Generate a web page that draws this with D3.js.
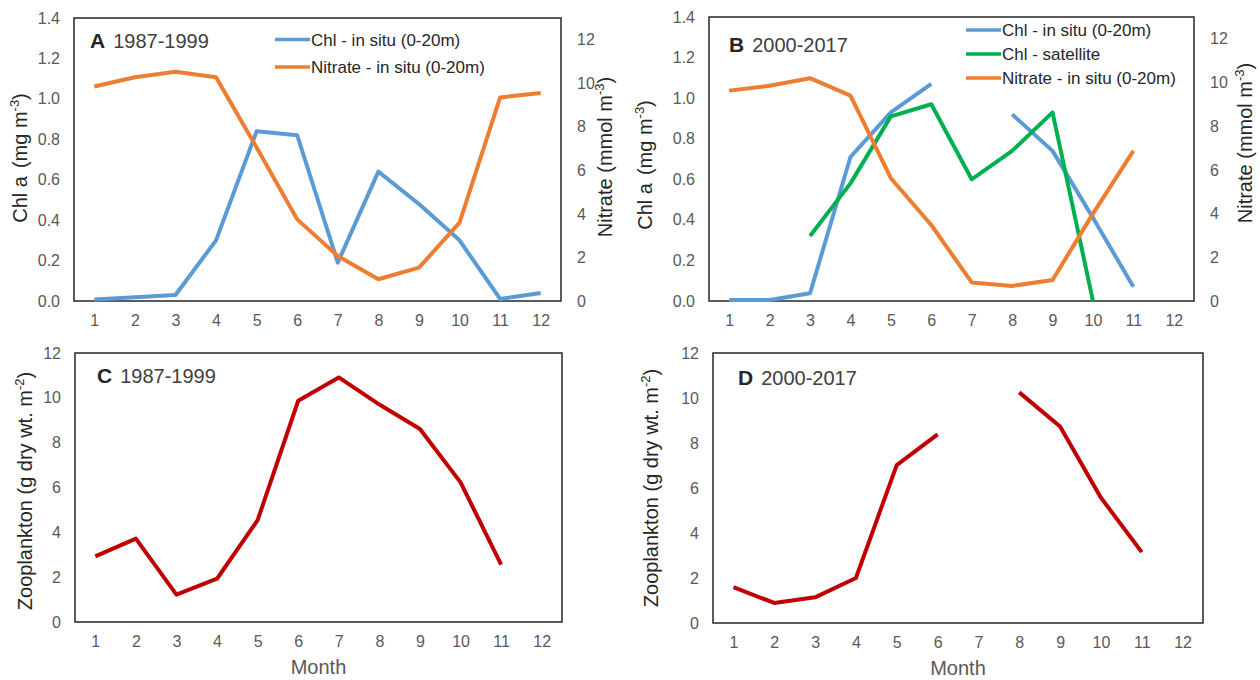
<!DOCTYPE html>
<html>
<head>
<meta charset="utf-8">
<script src="https://cdn.jsdelivr.net/npm/d3@7"></script>
<style>
  body { margin: 0; background: #fff; }
  svg { font-family: "Liberation Sans", Arial, sans-serif; }
  .tick text { fill: #595959; }
</style>
</head>
<body>
<svg id="chart" width="1260" height="680"></svg>
<script>
// months on the category axis
const months = [1, 2, 3, 4, 5, 6, 7, 8, 9, 10, 11, 12];

// Panel A, 1987-1999
const chlA = [0.008, 0.018, 0.03, 0.30, 0.84, 0.82, 0.19, 0.64, 0.48, 0.30, 0.01, 0.04];
const nitrateA = [9.85, 10.28, 10.53, 10.28, 7.05, 3.75, 2.07, 1.0, 1.53, 3.6, 9.35, 9.55];

// Panel B, 2000-2017
const chlB = [0.005, 0.005, 0.038, 0.71, 0.93, 1.07, null, 0.92, 0.74, 0.41, 0.07, null];
const satB = [null, null, 0.32, 0.58, 0.91, 0.97, 0.60, 0.74, 0.93, 0.0, null, null];
const nitrateB = [9.63, 9.85, 10.2, 9.4, 5.62, 3.48, 0.85, 0.69, 0.96, 4.0, 6.87, null];

// Panels C and D, zooplankton
const zooC = [2.93, 3.72, 1.22, 1.93, 4.54, 9.87, 10.91, 9.7, 8.61, 6.23, 2.56, null];
const zooD = [1.59, 0.89, 1.14, 2.0, 7.02, 8.38, null, 10.25, 8.73, 5.57, 3.15, null];

// tick values
const chlTicks = [0, 0.2, 0.4, 0.6, 0.8, 1.0, 1.2, 1.4];
const nitrateTicks = [0, 2, 4, 6, 8, 10, 12];
const zooTicks = [0, 2, 4, 6, 8, 10, 12];

const BLUE = "#5B9BD5", ORANGE = "#ED7D31", GREEN = "#00B050", RED = "#C00000";

const svg = d3.select("#chart");

function drawPanel(p) {
  const g = svg.append("g");
  const x = d3.scalePoint().domain(months).range([p.x0, p.x1]).padding(0.5);
  const yL = d3.scaleLinear().domain(p.leftDomain).range([p.y1, p.y0]);
  const yR = p.rightDomain ? d3.scaleLinear().domain(p.rightDomain).range([p.y1, p.y0]) : null;

  // box
  g.append("rect")
    .attr("x", p.x0).attr("y", p.y0)
    .attr("width", p.x1 - p.x0).attr("height", p.y1 - p.y0)
    .attr("fill", "none").attr("stroke", "#262626").attr("stroke-width", 1.5);

  // left axis
  const la = g.append("g").attr("transform", `translate(${p.x0 - 11},0)`)
    .call(d3.axisLeft(yL).tickValues(p.leftTicks).tickSize(0).tickFormat(p.leftFormat));
  la.select(".domain").remove();
  la.selectAll("text").attr("font-size", 16).attr("font-family", "Liberation Sans, Arial");

  if (yR) {
    const ra = g.append("g").attr("transform", `translate(${p.x1 + 13},0)`)
      .call(d3.axisRight(yR).tickValues(nitrateTicks).tickSize(0));
    ra.select(".domain").remove();
    ra.selectAll("text").attr("font-size", 16).attr("font-family", "Liberation Sans, Arial");
  }

  // bottom axis
  const ba = g.append("g").attr("transform", `translate(0,${p.y1 + 11})`)
    .call(d3.axisBottom(x).tickSize(0));
  ba.select(".domain").remove();
  ba.selectAll("text").attr("font-size", 16).attr("font-family", "Liberation Sans, Arial");

  // series
  p.series.forEach(s => {
    const sc = s.right ? yR : yL;
    const line = d3.line()
      .defined(d => d.v != null)
      .x(d => x(d.m))
      .y(d => sc(d.v));
    g.append("path")
      .datum(months.map((m, i) => ({ m: m, v: s.values[i] })))
      .attr("d", line)
      .attr("fill", "none")
      .attr("stroke", s.color)
      .attr("stroke-width", 4)
      .attr("stroke-linejoin", "round");
  });

  // panel tag
  const tag = g.append("text").attr("x", p.tagX).attr("y", p.tagY)
    .attr("font-size", 20).attr("fill", "#262626");
  tag.append("tspan").attr("font-weight", "bold").attr("font-size", 21).text(p.tag);
  tag.append("tspan").attr("dx", 8).attr("fill", "#404040").text(p.period);

  // legend
  if (p.legend) {
    p.legend.forEach((l, i) => {
      const ly = p.legY + i * p.legStep;
      g.append("line").attr("x1", p.legX).attr("x2", p.legX + 35)
        .attr("y1", ly).attr("y2", ly)
        .attr("stroke", l.color).attr("stroke-width", 3.5);
      g.append("text").attr("x", p.legX + 36).attr("y", ly + 6)
        .attr("font-size", 17).attr("fill", "#262626").text(l.label);
    });
  }

  // left axis title
  const lt = g.append("text")
    .attr("transform", `translate(${p.leftTitleX},${p.leftTitleY}) rotate(-90)`)
    .attr("text-anchor", "middle").attr("font-size", 20).attr("fill", "#262626");
  p.leftTitle(lt);

  if (yR) {
    const rt = g.append("text")
      .attr("transform", `translate(${p.rightTitleX},${p.rightTitleY}) rotate(-90)`)
      .attr("text-anchor", "middle").attr("font-size", 20).attr("fill", "#262626");
    rt.append("tspan").text("Nitrate (mmol m");
    rt.append("tspan").attr("dy", -8).attr("font-size", 13).text("-3");
    rt.append("tspan").attr("dy", 8).text(")");
  }

  if (p.monthLabel) {
    g.append("text").attr("x", (p.x0 + p.x1) / 2).attr("y", p.y1 + 52)
      .attr("text-anchor", "middle").attr("font-size", 20).attr("fill", "#595959")
      .text("Month");
  }
}

function chlTitle(t) {
  t.append("tspan").text("Chl a");
  t.append("tspan").attr("dx", 8).text("(mg m");
  t.append("tspan").attr("dy", -8).attr("font-size", 13).text("-3");
  t.append("tspan").attr("dy", 8).text(")");
}
function zooTitle(t) {
  t.append("tspan").text("Zooplankton (g dry wt. m");
  t.append("tspan").attr("dy", -8).attr("font-size", 13).text("-2");
  t.append("tspan").attr("dy", 8).text(")");
}

drawPanel({
  x0: 74, x1: 561, y0: 18, y1: 301,
  leftDomain: [0, 1.4], leftTicks: chlTicks, leftFormat: d3.format(".1f"),
  rightDomain: [0, 13],
  series: [
    { values: chlA, color: BLUE },
    { values: nitrateA, color: ORANGE, right: true }
  ],
  tag: "A", period: "1987-1999", tagX: 90, tagY: 48,
  legend: [
    { label: "Chl - in situ (0-20m)", color: BLUE },
    { label: "Nitrate - in situ (0-20m)", color: ORANGE }
  ],
  legX: 275, legY: 39.5, legStep: 27.5,
  leftTitleX: 27, leftTitleY: 158, leftTitle: chlTitle,
  rightTitleX: 612, rightTitleY: 157
});

drawPanel({
  x0: 709, x1: 1194, y0: 17, y1: 301,
  leftDomain: [0, 1.4], leftTicks: chlTicks, leftFormat: d3.format(".1f"),
  rightDomain: [0, 13],
  series: [
    { values: chlB, color: BLUE },
    { values: satB, color: GREEN },
    { values: nitrateB, color: ORANGE, right: true }
  ],
  tag: "B", period: "2000-2017", tagX: 729, tagY: 52,
  legend: [
    { label: "Chl - in situ (0-20m)", color: BLUE },
    { label: "Chl - satellite", color: GREEN },
    { label: "Nitrate - in situ (0-20m)", color: ORANGE }
  ],
  legX: 966, legY: 30, legStep: 24,
  leftTitleX: 652, leftTitleY: 165, leftTitle: chlTitle,
  rightTitleX: 1252, rightTitleY: 143
});

drawPanel({
  x0: 75, x1: 562, y0: 353, y1: 622,
  leftDomain: [0, 12], leftTicks: zooTicks, leftFormat: d3.format("d"),
  series: [{ values: zooC, color: RED }],
  tag: "C", period: "1987-1999", tagX: 97, tagY: 383,
  leftTitleX: 32, leftTitleY: 491, leftTitle: zooTitle,
  monthLabel: true
});

drawPanel({
  x0: 713, x1: 1203, y0: 353, y1: 623,
  leftDomain: [0, 12], leftTicks: zooTicks, leftFormat: d3.format("d"),
  series: [{ values: zooD, color: RED }],
  tag: "D", period: "2000-2017", tagX: 738, tagY: 385,
  leftTitleX: 658, leftTitleY: 488, leftTitle: zooTitle,
  monthLabel: true
});
</script>
</body>
</html>
